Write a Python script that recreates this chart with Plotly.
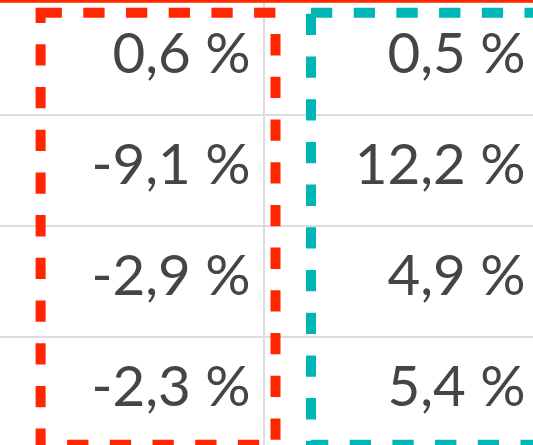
import plotly.graph_objects as go

# ---- data ----
left_values = [0.6, -9.1, -2.9, -2.3]
right_values = [0.5, 12.2, 4.9, 5.4]
row_index = [0, 1, 2, 3]
col_index = [0, 1]

def fmt(v):
    return f"{v:.1f}".replace(".", ",") + " %"

W, H = 533, 445
# pixel -> data helpers (layout only)
COL_W = 275.0
ROW_H = 111.0
def xd(px):
    return 0.5 + (px - 264.0) / COL_W
def yd(px):
    return 0.5 + (px - 114.5) / ROW_H

text_x = []
text_y = []
texts = []
for c, vals in zip(col_index, [left_values, right_values]):
    for r, v in zip(row_index, vals):
        text_x.append(c + 0.451)
        text_y.append(r)
        texts.append(fmt(v))

fig = go.Figure()
fig.add_trace(go.Scatter(
    x=text_x, y=text_y, text=texts, mode="text",
    textposition="middle left",
    textfont=dict(family="Lato", size=56.5, color="#454545"),
    hoverinfo="skip", showlegend=False,
))

RED = "#ff2600"
TEAL = "#00b5b5"
dash = "21.3px,21.4px"
fig.add_shape(type="rect", xref="x", yref="y",
              x0=xd(40.6), x1=xd(275.5), y0=yd(12.8), y1=yd(444.8),
              line=dict(color=RED, width=10, dash=dash), fillcolor="rgba(0,0,0,0)")
fig.add_shape(type="rect", xref="x", yref="y",
              x0=xd(311), x1=xd(552), y0=yd(12.8), y1=yd(444.8),
              line=dict(color=TEAL, width=10, dash=dash), fillcolor="rgba(0,0,0,0)")
# header border (red top line)
fig.add_shape(type="rect", xref="paper", yref="paper",
              x0=0, x1=1, y0=1 - 2.7 / H, y1=1,
              line=dict(width=0), fillcolor=RED)

fig.update_layout(
    width=W, height=H, margin=dict(l=0, r=0, t=0, b=0),
    paper_bgcolor="white", plot_bgcolor="white",
    xaxis=dict(range=[xd(0), xd(W)], tickvals=[0.5], showticklabels=False,
               showgrid=True, gridcolor="#dcdcdc", gridwidth=2, zeroline=False,
               showline=False, ticks=""),
    yaxis=dict(range=[yd(H), yd(0)], tickvals=[0.5, 1.5, 2.5], showticklabels=False,
               showgrid=True, gridcolor="#dcdcdc", gridwidth=2, zeroline=False,
               showline=False, ticks=""),
)
fig.write_html("out.html", config={"displayModeBar": False},
               post_script="document.body.style.margin='0';document.body.style.overflow='hidden';")
